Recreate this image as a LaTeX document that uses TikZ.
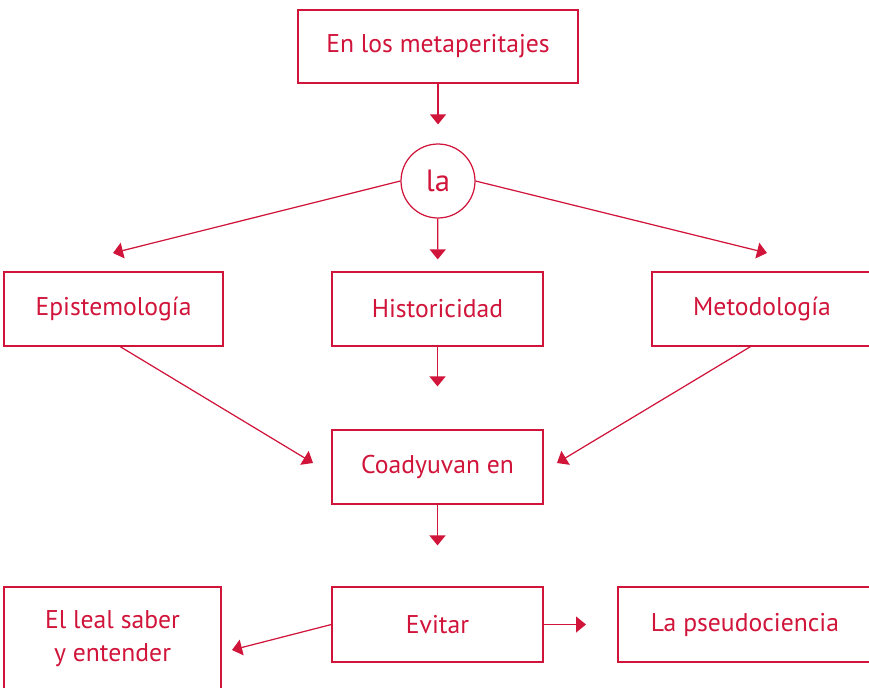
\documentclass[tikz,border=0pt]{standalone}
\usepackage{fontspec}
\setmainfont{PT Sans}
\usepackage{tikz}
\usetikzlibrary{arrows.meta}

\definecolor{rojo}{RGB}{208,20,58}

\begin{document}
\begin{tikzpicture}[x=0.02cm, y=-0.02cm,
  caja/.style={draw=rojo, line width=0.7pt, text=rojo, inner sep=0pt,
    font=\fontsize{14.6}{18.5}\selectfont},
  flecha/.style={draw=rojo, line width=0.7pt,
    -{Triangle[width=0.32cm, length=0.2cm]}}]
\useasboundingbox (0, 0) rectangle (869, 687);

\node[caja, minimum width=5.6cm, minimum height=1.46cm] (top) at (438, 46.5) {En los metaperitajes};
\node[caja, circle, minimum size=1.48cm, font=\fontsize{17.5}{20}\selectfont] (la) at (438, 181) {la};

\node[caja, minimum width=4.38cm, minimum height=1.48cm] (epis) at (113.5, 309) {Epistemología};
\node[caja, minimum width=4.22cm, minimum height=1.48cm] (hist) at (437.5, 309) {Historicidad};
\node[caja, minimum width=4.4cm, minimum height=1.48cm] (meto) at (762, 309) {Metodología};

\node[caja, minimum width=4.22cm, minimum height=1.48cm] (coad) at (437.5, 467) {Coadyuvan en};

\node[caja, minimum width=4.34cm, minimum height=2.06cm, align=center] (leal) at (112.5, 638.5) {El leal saber\\y entender};
\node[caja, minimum width=4.22cm, minimum height=1.5cm] (evitar) at (437.5, 624.5) {Evitar};
\node[caja, minimum width=5.08cm, minimum height=1.5cm] (pseudo) at (745, 624.5) {La pseudociencia};

\coordinate (t1) at (113, 253);
\coordinate (t2) at (767, 253);
\coordinate (t3) at (313, 463);
\coordinate (t4) at (557, 463);
\coordinate (t5) at (232, 650);
\coordinate (t6) at (586, 624.5);

\draw[flecha, shorten >=0.38cm] (top) -- (la);
\draw[flecha] (la.west) -- (t1);
\draw[flecha, shorten >=0.24cm] (la) -- (hist);
\draw[flecha] (la.east) -- (t2);
\draw[flecha] (epis.-80) -- (t3);
\draw[flecha, shorten >=0.86cm] (hist) -- (coad);
\draw[flecha] (meto.-107) -- (t4);
\draw[flecha, shorten >=0.82cm] (coad) -- (evitar);
\draw[flecha] (evitar.west) -- (t5);
\draw[flecha] (evitar.east) -- (t6);
\end{tikzpicture}
\end{document}
